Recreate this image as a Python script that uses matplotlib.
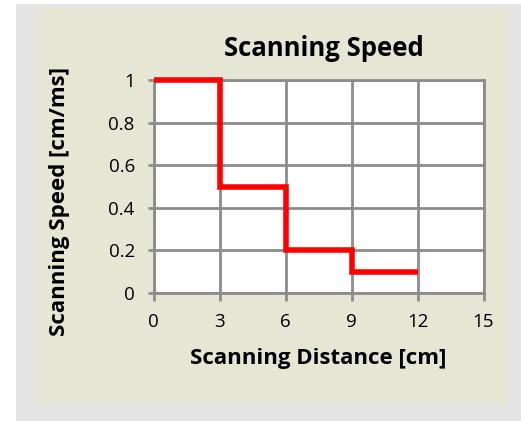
import matplotlib
matplotlib.use("Agg")
import matplotlib.pyplot as plt
from matplotlib.patches import Rectangle

# Scanning profile: distance breakpoints [cm] and speed in each segment [cm/ms]
distance = [0, 3, 3, 6, 6, 9, 9, 12]
speed = [1, 1, 0.5, 0.5, 0.2, 0.2, 0.1, 0.1]
x_ticks = [0, 3, 6, 9, 12, 15]
y_ticks = [0, 0.2, 0.4, 0.6, 0.8, 1]
y_tick_labels = ["0", "0.2", "0.4", "0.6", "0.8", "1"]

W, H = 521, 421
plt.rcParams["font.family"] = ["Open Sans", "DejaVu Sans"]

fig = plt.figure(figsize=(W / 100, H / 100), dpi=100)
fig.patch.set_facecolor("white")

def px_rect(x0, y0, x1, y1, color):
    fig.patches.append(Rectangle((x0 / W, 1 - y1 / H), (x1 - x0) / W, (y1 - y0) / H,
                                 transform=fig.transFigure, facecolor=color,
                                 edgecolor="none", zorder=-10))

px_rect(16, 4, W, H, "#e4e4e4")
px_rect(35, 8, 508, 403, "#e6e6d5")

left, right, top, bottom = 153.5, 483.5, 80, 293
ax = fig.add_axes([left / W, 1 - bottom / H, (right - left) / W, (bottom - top) / H])
ax.set_facecolor("white")

grid_c = "#8c8c8c"
ax.set_xlim(0, 15)
ax.set_ylim(0, 1)
ax.set_xticks(x_ticks)
ax.set_yticks(y_ticks)
ax.set_yticklabels(y_tick_labels)
ax.grid(True, color=grid_c, linewidth=2)
ax.set_axisbelow(True)
for s in ax.spines.values():
    s.set_color(grid_c)
    s.set_linewidth(2)
ax.tick_params(axis="both", colors=grid_c, width=2, labelcolor="black",
               labelsize=13.5)
ax.tick_params(axis="x", length=6, pad=8.5)
ax.tick_params(axis="y", length=4.5, pad=9)

ax.plot(distance, speed, color="#ff0000", linewidth=4, solid_capstyle="butt",
        solid_joinstyle="miter", clip_on=False, zorder=5)

ax.set_title("Scanning Speed", fontsize=18.5, fontweight="bold", pad=17)
ax.title.set_x((324 - left) / (right - left))
ax.set_xlabel("Scanning Distance [cm]", fontsize=16, fontweight="bold")
ax.set_ylabel("Scanning Speed [cm/ms]", fontsize=16, fontweight="bold")
ax.xaxis.set_label_coords(0.5, (bottom - 348) / (bottom - top))
ax.yaxis.set_label_coords((70 - left) / (right - left), (bottom - 202) / (bottom - top))

fig.savefig("out.png", dpi=100)
